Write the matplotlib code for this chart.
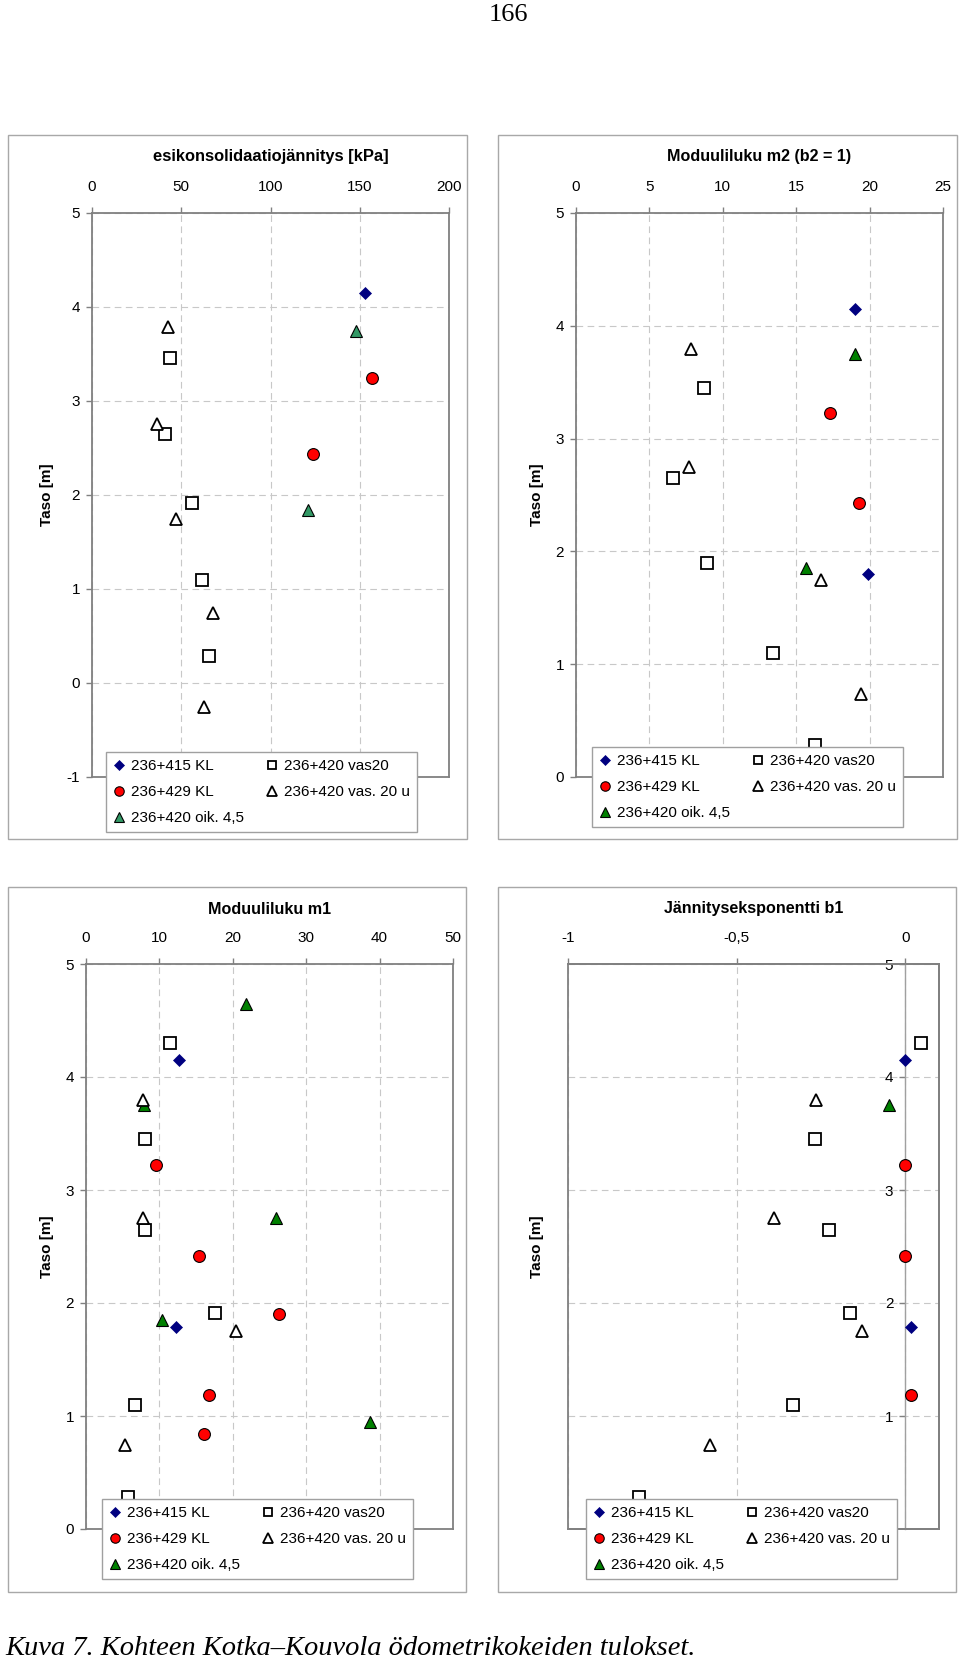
import matplotlib
matplotlib.use('Agg')
import matplotlib.pyplot as plt
from matplotlib.patches import Rectangle
from matplotlib.ticker import FuncFormatter, FixedLocator

plt.rcParams['font.family'] = ['Liberation Sans', 'DejaVu Sans']
plt.rcParams['axes.unicode_minus'] = False

# ---------------- data ----------------
series_labels = ['236+415 KL', '236+429 KL', '236+420 oik. 4,5',
                 '236+420 vas20', '236+420 vas. 20 u']

# Panel 1: esikonsolidaatiojännitys [kPa]
p1_kl415_x = [153];            p1_kl415_y = [4.15]
p1_kl429_x = [157, 124];       p1_kl429_y = [3.24, 2.44]
p1_oik_x = [148, 121];         p1_oik_y = [3.75, 1.84]
p1_vas20_x = [43.5, 41, 56, 61.5, 65.5]
p1_vas20_y = [3.46, 2.65, 1.91, 1.10, 0.29]
p1_vas20u_x = [42.5, 36.5, 47, 68, 63]
p1_vas20u_y = [3.79, 2.76, 1.75, 0.74, -0.26]

# Panel 2: Moduuliluku m2 (b2 = 1)
p2_kl415_x = [19.0, 19.9];     p2_kl415_y = [4.15, 1.80]
p2_kl429_x = [17.3, 19.3];     p2_kl429_y = [3.23, 2.43]
p2_oik_x = [19.0, 15.7];       p2_oik_y = [3.75, 1.85]
p2_vas20_x = [8.7, 6.6, 8.9, 13.4, 16.3]
p2_vas20_y = [3.45, 2.65, 1.90, 1.10, 0.28]
p2_vas20u_x = [7.8, 7.7, 16.7, 19.4]
p2_vas20u_y = [3.79, 2.75, 1.75, 0.74]

# Panel 3: Moduuliluku m1
p3_kl415_x = [12.7, 12.2];     p3_kl415_y = [4.15, 1.79]
p3_kl429_x = [9.6, 15.4, 26.3, 16.8, 16.1]
p3_kl429_y = [3.22, 2.42, 1.90, 1.19, 0.84]
p3_oik_x = [21.8, 7.9, 25.9, 10.4, 38.7]
p3_oik_y = [4.65, 3.75, 2.75, 1.85, 0.95]
p3_vas20_x = [11.4, 8.0, 8.0, 17.6, 6.7, 5.7]
p3_vas20_y = [4.30, 3.45, 2.65, 1.91, 1.10, 0.28]
p3_vas20u_x = [7.7, 7.8, 20.5, 5.3]
p3_vas20u_y = [3.80, 2.75, 1.75, 0.74]

# Panel 4: Jännityseksponentti b1
p4_kl415_x = [0.0, 0.018];     p4_kl415_y = [4.15, 1.79]
p4_kl429_x = [0.0, 0.0, 0.018]; p4_kl429_y = [3.22, 2.42, 1.19]
p4_oik_x = [-0.047];           p4_oik_y = [3.75]
p4_vas20_x = [0.047, -0.267, -0.225, -0.163, -0.332, -0.79]
p4_vas20_y = [4.30, 3.45, 2.65, 1.91, 1.10, 0.28]
p4_vas20u_x = [-0.264, -0.39, -0.128, -0.58]
p4_vas20u_y = [3.80, 2.75, 1.75, 0.74]

titles = ['esikonsolidaatiojännitys [kPa]', 'Moduuliluku m2 (b2 = 1)',
          'Moduuliluku m1', 'Jännityseksponentti b1']
p1_xticks = [0, 50, 100, 150, 200]
p2_xticks = [0, 5, 10, 15, 20, 25]
p3_xticks = [0, 10, 20, 30, 40, 50]
p4_xticks = [-1, -0.5, 0]
p1_yticks = [-1, 0, 1, 2, 3, 4, 5]
p23_yticks = [0, 1, 2, 3, 4, 5]
p4_yticks = [1, 2, 3, 4, 5]   # the 0 label is hidden behind the legend
ylabel = 'Taso [m]'
page_number = '166'
caption = 'Kuva 7. Kohteen Kotka\u2013Kouvola ödometrikokeiden tulokset.'

# ---------------- figure ----------------
W, H = 960, 1664
fig = plt.figure(figsize=(W / 100, H / 100), dpi=100)


def fx(px):
    return px / W


def fy(py):
    return 1 - py / H


fmt = FuncFormatter(lambda v, p: ('%g' % v).replace('.', ','))


def styles(green):
    return [
        dict(marker='D', ms=5.8, mfc='#000080', mec='#000080', mew=0.5),
        dict(marker='o', ms=8.5, mfc='#FF0000', mec='black', mew=0.8),
        dict(marker='^', ms=8.5, mfc=green, mec='black', mew=0.8),
        dict(marker='s', ms=8.0, mfc='white', mec='black', mew=1.3),
        dict(marker='^', ms=8.5, mfc='white', mec='black', mew=1.3),
    ]


def panel(plot_px, frame_px, legend_px, title, title_size, xlim, xticks,
          ylim, yticks, data, green, yaxis_zero=False):
    l, t, r, b = plot_px
    ax = fig.add_axes([fx(l), fy(b), (r - l) / W, (b - t) / H])
    ax.set_xlim(*xlim)
    ax.set_ylim(*ylim)
    ax.xaxis.tick_top()
    ax.xaxis.set_major_locator(FixedLocator(xticks))
    ax.yaxis.set_major_locator(FixedLocator(yticks))
    ax.xaxis.set_major_formatter(fmt)
    ax.yaxis.set_major_formatter(fmt)
    ax.set_axisbelow(True)
    ax.grid(True, color='#c8c8c8', linestyle=(0, (6, 4)), linewidth=0.8)
    for s in ax.spines.values():
        s.set_color('#808080')
        s.set_linewidth(1.3)
    ax.tick_params(axis='both', direction='out', length=4, width=1,
                   color='#808080', labelsize=11, labelcolor='black')
    ax.tick_params(axis='x', pad=9.4)
    ax.tick_params(axis='y', pad=4.6)
    if yaxis_zero:
        ax.spines['left'].set_position(('data', 0))
        ax.spines['left'].set_color('#a0a0a0')
        ax.spines['left'].set_linewidth(1.0)
        ax.add_patch(Rectangle((0, 0), 1, 1, transform=ax.transAxes,
                               fill=False, ec='#808080', lw=1.3,
                               clip_on=False, zorder=2.5))
    st = styles(green)
    handles = []
    for (xs, ys), s, lab in zip(data, st, series_labels):
        h, = ax.plot(xs, ys, linestyle='none', label=lab, clip_on=False,
                     zorder=3, **s)
        handles.append(h)
    lx, ly = legend_px
    leg = ax.legend(handles, series_labels, ncol=2, loc='upper left',
                    bbox_to_anchor=(fx(lx), fy(ly)),
                    bbox_transform=fig.transFigure, frameon=True,
                    fancybox=False, edgecolor='#a0a0a0', framealpha=1,
                    fontsize=11, handlelength=0.8, handletextpad=0.4,
                    columnspacing=1.4, labelspacing=0.8, borderpad=0.45,
                    borderaxespad=0, markerscale=0.8)
    leg.get_frame().set_linewidth(1.0)
    leg.set_zorder(10)
    # title
    fig.text(fx((l + r) / 2), fy(frame_px[1] + 22), title, ha='center',
             va='center', fontsize=title_size, fontweight='bold')
    # outer frame
    x0, y0, x1, y1 = frame_px
    fig.add_artist(Rectangle((fx(x0), fy(y1)), (x1 - x0) / W, (y1 - y0) / H,
                             transform=fig.transFigure, fill=False,
                             ec='#a8a8a8', lw=1.0))
    fig.text(fx(x0 + 39), fy((t + b) / 2), ylabel, rotation=90,
             ha='center', va='center', fontsize=11, fontweight='bold')
    return ax


panel((92, 213, 449, 777), (8, 135, 467, 839), (106, 752), titles[0], 11.9,
      (0, 200), p1_xticks, (-1, 5), p1_yticks,
      [(p1_kl415_x, p1_kl415_y), (p1_kl429_x, p1_kl429_y),
       (p1_oik_x, p1_oik_y), (p1_vas20_x, p1_vas20_y),
       (p1_vas20u_x, p1_vas20u_y)], '#339966')

panel((576, 213, 943, 777), (498, 135, 957, 839), (592, 747), titles[1], 11.6,
      (0, 25), p2_xticks, (0, 5), p23_yticks,
      [(p2_kl415_x, p2_kl415_y), (p2_kl429_x, p2_kl429_y),
       (p2_oik_x, p2_oik_y), (p2_vas20_x, p2_vas20_y),
       (p2_vas20u_x, p2_vas20u_y)], '#008000')

panel((86, 964, 453, 1529), (8, 887, 466, 1592), (102, 1499), titles[2], 11.6,
      (0, 50), p3_xticks, (0, 5), p23_yticks,
      [(p3_kl415_x, p3_kl415_y), (p3_kl429_x, p3_kl429_y),
       (p3_oik_x, p3_oik_y), (p3_vas20_x, p3_vas20_y),
       (p3_vas20u_x, p3_vas20u_y)], '#008000')

panel((568, 964, 939, 1529), (498, 887, 956, 1592), (586, 1499), titles[3], 11.6,
      (-1, 0.1), p4_xticks, (0, 5), p4_yticks,
      [(p4_kl415_x, p4_kl415_y), (p4_kl429_x, p4_kl429_y),
       (p4_oik_x, p4_oik_y), (p4_vas20_x, p4_vas20_y),
       (p4_vas20u_x, p4_vas20u_y)], '#008000', yaxis_zero=True)

fig.text(fx(508), fy(15), page_number, ha='center', va='center',
         fontsize=19, family=['Liberation Serif', 'DejaVu Serif'])
fig.text(fx(5), fy(1655), caption, ha='left', va='baseline', fontsize=20.5,
         style='italic', family=['Liberation Serif', 'DejaVu Serif'])

fig.savefig('out.png', dpi=100)
